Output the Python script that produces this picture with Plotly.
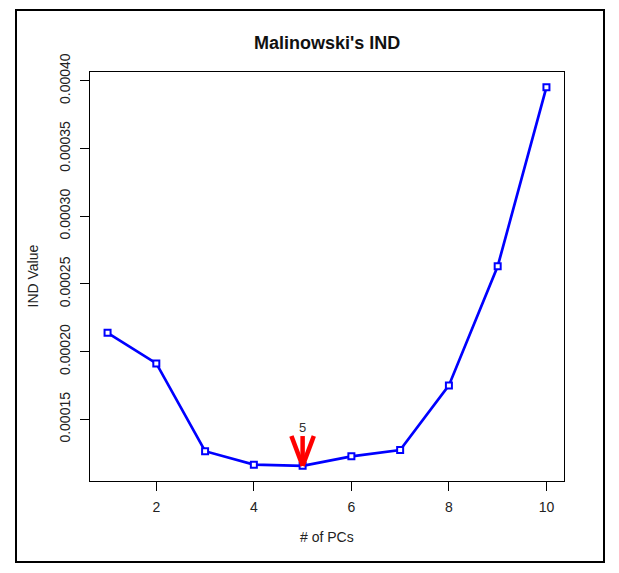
import plotly.graph_objects as go

# ---- data ----
n_pcs = [1, 2, 3, 4, 5, 6, 7, 8, 9, 10]
ind_values = [0.0002139, 0.0001913, 0.0001265, 0.0001166, 0.0001157,
              0.0001227, 0.0001274, 0.0001751, 0.0002630, 0.0003953]
x_ticks = [2, 4, 6, 8, 10]
y_ticks = [0.00015, 0.00020, 0.00025, 0.00030, 0.00035, 0.00040]
best_pc = 5
title_text = "Malinowski's IND"
x_title = "# of PCs"
y_title = "IND Value"

# R-style 4% axis extension
def r_range(vals):
    lo, hi = min(vals), max(vals)
    pad = 0.04 * (hi - lo)
    return [lo - pad, hi + pad]

xr = r_range(n_pcs)
yr = r_range(ind_values)

FONT = "Liberation Sans, Arial, sans-serif"
W, H = 619, 573
ML, MR, MT, MB = 90, 55, 72, 92
pw, ph = W - ML - MR, H - MT - MB

fig = go.Figure()
fig.add_trace(go.Scatter(
    x=n_pcs, y=ind_values, mode="lines+markers",
    line=dict(color="#0000ff", width=2.7),
    marker=dict(symbol="square", size=6, color="white",
                line=dict(color="#0000ff", width=2)),
    showlegend=False, hoverinfo="x+y",
))

# arrow marking the minimum
tip = ind_values[n_pcs.index(best_pc)]
arrow_len = 0.000022
arm = 0.23
top = tip + arrow_len
shapes = []
for x0 in (best_pc, best_pc - arm, best_pc + arm):
    shapes.append(dict(type="line", xref="x", yref="y", x0=x0, y0=top,
                       x1=best_pc, y1=tip,
                       line=dict(color="#ff0000", width=4.5), layer="above"))

# outer frame around the whole figure
def px_x(p):
    return (p - ML) / pw
def px_y(p):
    return (H - MB - p) / ph
shapes.append(dict(type="rect", xref="paper", yref="paper",
                   x0=px_x(16), x1=px_x(604), y0=px_y(562), y1=px_y(10),
                   line=dict(color="black", width=2), fillcolor="rgba(0,0,0,0)",
                   layer="below"))

annotations = [
    dict(x=best_pc, y=top, xref="x", yref="y", text=str(best_pc),
         showarrow=False, yanchor="bottom", yshift=-1,
         font=dict(family=FONT, size=13, color="#333")),
    dict(x=0.5, y=px_y(537), xref="paper", yref="paper", text=x_title,
         showarrow=False, xanchor="center", yanchor="middle",
         font=dict(family=FONT, size=14, color="#222")),
    dict(x=px_x(32), y=0.5, xref="paper", yref="paper", text=y_title,
         showarrow=False, textangle=-90, xanchor="center", yanchor="middle",
         font=dict(family=FONT, size=14, color="#222")),
    dict(x=0.5, y=px_y(43), xref="paper", yref="paper", text="<b>" + title_text + "</b>",
         showarrow=False, xanchor="center", yanchor="middle",
         font=dict(family=FONT, size=18, color="#111")),
]

fig.update_layout(
    width=W, height=H,
    margin=dict(l=ML, r=MR, t=MT, b=MB, pad=0),
    paper_bgcolor="white", plot_bgcolor="white",
    font=dict(family=FONT, size=14, color="#222"),
    shapes=shapes, annotations=annotations,
    xaxis=dict(range=xr, tickvals=x_ticks, ticks="outside", ticklen=9,
               tickwidth=1, tickcolor="black", showline=True, linecolor="black",
               linewidth=1.3, mirror=True, showgrid=False, zeroline=False,
               ticklabelstandoff=4,
               tickfont=dict(family=FONT, size=14, color="#222")),
    yaxis=dict(range=yr, tickvals=y_ticks, tickformat=".5f", ticks="outside",
               ticklen=9, tickwidth=1, tickcolor="black", showline=True,
               linecolor="black", linewidth=1.3, mirror=True, showgrid=False,
               zeroline=False, tickangle=-90, ticklabelstandoff=4,
               tickfont=dict(family=FONT, size=14, color="#222")),
)

fig.write_html("out.html")
